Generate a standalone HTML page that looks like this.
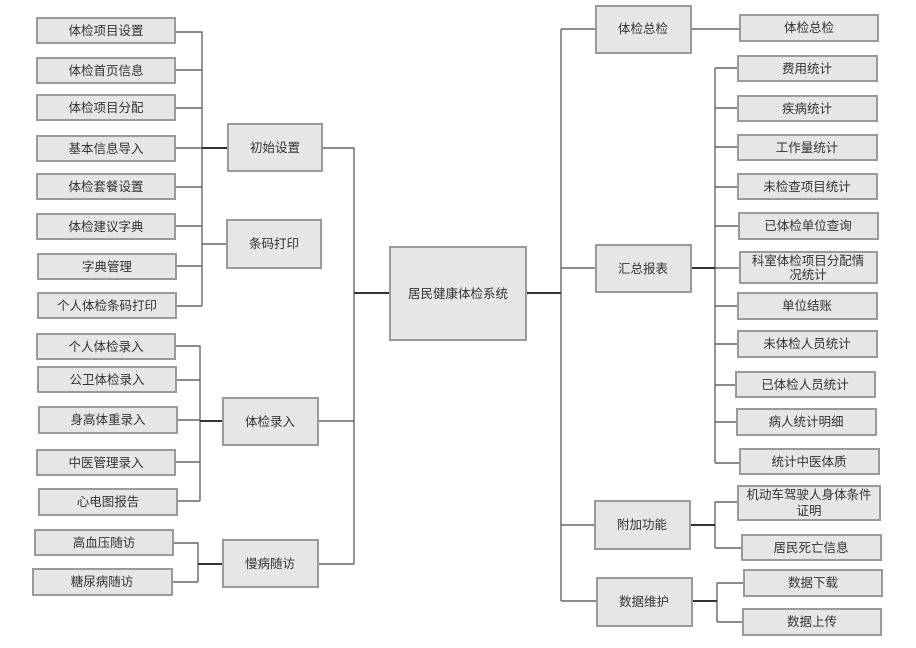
<!DOCTYPE html>
<html><head><meta charset="utf-8">
<style>
html,body{margin:0;padding:0;background:#fff;}
svg{display:block;}
text{font-family:"Liberation Sans","Noto Sans CJK SC",sans-serif;font-size:12.5px;fill:#333;text-anchor:middle;dominant-baseline:central;}
.b{fill:#e6e6e6;stroke:#9a9a9a;stroke-width:2;}
.l{stroke:#666;stroke-width:1.4;fill:none;}
.t{stroke:#333;stroke-width:2;fill:none;}
</style></head><body>
<svg width="916" height="648" viewBox="0 0 916 648" xmlns="http://www.w3.org/2000/svg">
<!-- left leaves group 1 -->
<g class="l">
<path d="M175 32H202V306M175 70H202M175 108H202M175 148H202M175 187H202M175 226H202M176 266H202M176 306H202"/>
<path d="M202 244H227"/>
<path d="M322 148H354V564M318 421H354M318 564H354"/>
<path d="M175 346H200V501M176 380H200M177 420H200M175 462H200M177 501H200"/>
<path d="M173 543H198V582M172 582H198"/>
<path d="M526 293H561M561 29V601M561 29H596M561 268H596M561 525H595M561 601H597"/>
<path d="M691 29H740"/>
<path d="M715 68V463M715 68H738M715 108H738M715 147H738M715 187H738M715 226H739M715 268H740M715 306H738M715 344H738M715 385H736M715 422H737M715 463H740"/>
<path d="M715 502V548M715 502H738M715 548H742"/>
<path d="M717 583V622M717 583H744M717 622H743"/>
</g>
<g class="t">
<path d="M202 148H228M200 421H223M198 564H223M354 293H390M526 293H561M691 268H715M690 525H715M692 601H717"/>
</g>
<!-- boxes -->
<g class="b">
<rect x="37" y="18" width="138" height="25"/>
<rect x="37" y="58" width="138" height="25"/>
<rect x="37" y="95" width="138" height="25"/>
<rect x="37" y="136" width="138" height="25"/>
<rect x="37" y="174" width="138" height="25"/>
<rect x="37" y="214" width="138" height="25"/>
<rect x="38" y="254" width="138" height="25"/>
<rect x="38" y="293" width="138" height="25"/>
<rect x="228" y="124" width="94" height="47"/>
<rect x="227" y="220" width="94" height="48"/>
<rect x="37" y="334" width="138" height="25"/>
<rect x="38" y="367" width="138" height="25"/>
<rect x="39" y="407" width="138" height="26"/>
<rect x="37" y="450" width="138" height="25"/>
<rect x="39" y="489" width="138" height="26"/>
<rect x="223" y="398" width="95" height="47"/>
<rect x="35" y="530" width="138" height="25"/>
<rect x="33" y="569" width="139" height="26"/>
<rect x="223" y="540" width="95" height="47"/>
<rect x="390" y="247" width="136" height="93"/>
<rect x="596" y="6" width="95" height="47"/>
<rect x="740" y="15" width="138" height="26"/>
<rect x="596" y="245" width="95" height="47"/>
<rect x="738" y="56" width="139" height="25"/>
<rect x="738" y="96" width="139" height="25"/>
<rect x="738" y="135" width="139" height="25"/>
<rect x="738" y="174" width="139" height="25"/>
<rect x="739" y="213" width="139" height="26"/>
<rect x="740" y="252" width="137" height="31"/>
<rect x="738" y="293" width="139" height="26"/>
<rect x="738" y="331" width="139" height="26"/>
<rect x="736" y="372" width="139" height="25"/>
<rect x="737" y="409" width="139" height="26"/>
<rect x="740" y="449" width="139" height="25"/>
<rect x="595" y="501" width="95" height="48"/>
<rect x="738" y="486" width="142" height="34"/>
<rect x="742" y="535" width="139" height="25"/>
<rect x="597" y="578" width="95" height="48"/>
<rect x="744" y="570" width="138" height="26"/>
<rect x="743" y="609" width="138" height="26"/>
</g>
<!-- labels -->
<text x="106" y="31">体检项目设置</text>
<text x="106" y="71">体检首页信息</text>
<text x="106" y="108">体检项目分配</text>
<text x="106" y="149">基本信息导入</text>
<text x="106" y="187">体检套餐设置</text>
<text x="106" y="227">体检建议字典</text>
<text x="107" y="267">字典管理</text>
<text x="107" y="306">个人体检条码打印</text>
<text x="275" y="148">初始设置</text>
<text x="274" y="244">条码打印</text>
<text x="106" y="347">个人体检录入</text>
<text x="107" y="380">公卫体检录入</text>
<text x="108" y="420">身高体重录入</text>
<text x="106" y="463">中医管理录入</text>
<text x="108" y="502">心电图报告</text>
<text x="270" y="422">体检录入</text>
<text x="104" y="543">高血压随访</text>
<text x="102" y="582">糖尿病随访</text>
<text x="270" y="564">慢病随访</text>
<text x="458" y="294">居民健康体检系统</text>
<text x="643" y="29">体检总检</text>
<text x="809" y="28">体检总检</text>
<text x="643" y="269">汇总报表</text>
<text x="807" y="69">费用统计</text>
<text x="807" y="109">疾病统计</text>
<text x="807" y="148">工作量统计</text>
<text x="807" y="187">未检查项目统计</text>
<text x="808" y="226">已体检单位查询</text>
<text x="808" y="261">科室体检项目分配情</text>
<text x="808" y="275">况统计</text>
<text x="807" y="306">单位结账</text>
<text x="807" y="344">未体检人员统计</text>
<text x="805" y="385">已体检人员统计</text>
<text x="806" y="422">病人统计明细</text>
<text x="809" y="462">统计中医体质</text>
<text x="642" y="525">附加功能</text>
<text x="809" y="495">机动车驾驶人身体条件</text>
<text x="809" y="511">证明</text>
<text x="811" y="548">居民死亡信息</text>
<text x="644" y="602">数据维护</text>
<text x="813" y="583">数据下载</text>
<text x="812" y="622">数据上传</text>
</svg>
</body></html>
